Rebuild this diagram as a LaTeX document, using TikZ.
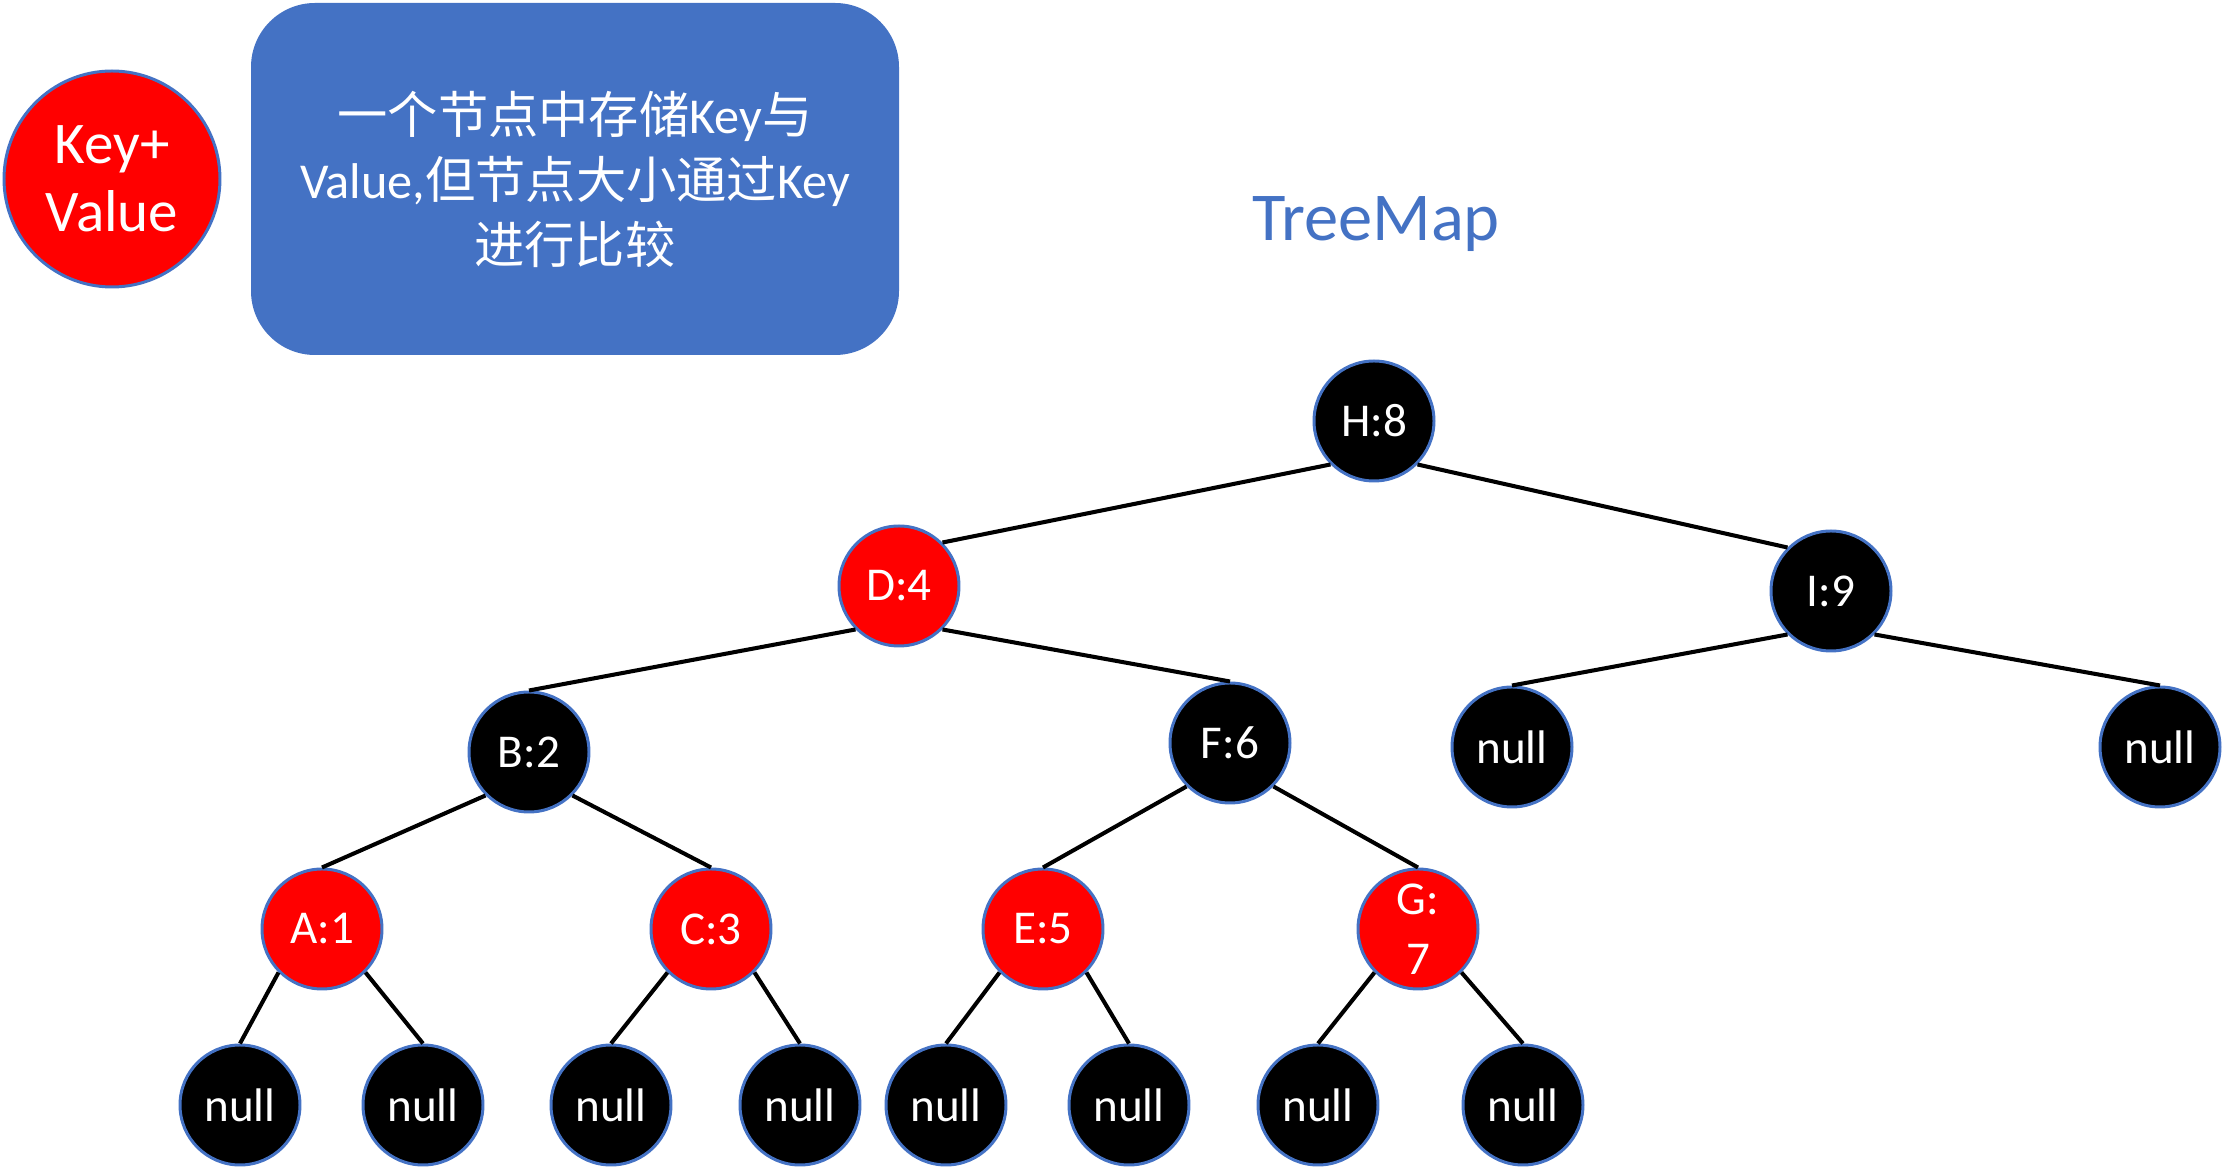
\documentclass[tikz,border=0pt]{standalone}
\usepackage{fontspec}
\setmainfont{Carlito}
\newfontfamily\cjk{Noto Sans CJK SC}
\definecolor{accent}{HTML}{4472C4}
\definecolor{nodered}{HTML}{FF0000}
\begin{document}
\begin{tikzpicture}[
  tnode/.style={circle, draw=accent, line width=0.85pt, minimum size=1.2cm, inner sep=0pt,
    text=white, font=\fontsize{13.4}{17}\selectfont, align=center},
  rednode/.style={tnode, fill=nodered},
  blacknode/.style={tnode, fill=black},
  edge/.style={line width=1.15pt, black}
]
\useasboundingbox (0,0) rectangle (22.24,-11.67);

% legend
\node[circle, draw=accent, line width=0.85pt, fill=nodered, minimum size=2.16cm, inner sep=0pt,
  text=white, align=center, font=\fontsize{16.8}{19.3}\selectfont] (legend) at (1.12,-1.79) {Key+\\Value};
\node[draw=none, fill=accent, rounded corners=0.64cm, minimum width=6.48cm, minimum height=3.52cm,
  text=white, align=center, font=\fontsize{14.3}{18.5}\selectfont] (note) at (5.75,-1.79)
  {{\cjk 一个节点中存储}Key{\cjk 与}\\Value,{\cjk 但节点大小通过}Key\\{\cjk 进行比较}};
\node[text=accent, font=\fontsize{19.5}{22}\selectfont] (title) at (13.76,-2.24) {TreeMap};

% tree nodes
\node[blacknode] (H) at (13.74,-4.21) {H:8};
\node[rednode]   (D) at (8.99,-5.86) {D:4};
\node[blacknode] (I) at (18.31,-5.91) {I:9};
\node[blacknode] (B) at (5.29,-7.52) {B:2};
\node[blacknode] (F) at (12.30,-7.43) {F:6};
\node[blacknode] (n9) at (15.12,-7.47) {null};
\node[blacknode] (n10) at (21.60,-7.47) {null};
\node[rednode] (A) at (3.22,-9.29) {A:1};
\node[rednode] (C) at (7.11,-9.29) {C:3};
\node[rednode] (E) at (10.43,-9.29) {E:5};
\node[rednode] (G) at (14.18,-9.29) {G:\\7};
\node[blacknode] (n1) at (2.40,-11.05) {null};
\node[blacknode] (n2) at (4.23,-11.05) {null};
\node[blacknode] (n3) at (6.11,-11.05) {null};
\node[blacknode] (n4) at (8.00,-11.05) {null};
\node[blacknode] (n5) at (9.46,-11.05) {null};
\node[blacknode] (n6) at (11.29,-11.05) {null};
\node[blacknode] (n7) at (13.18,-11.05) {null};
\node[blacknode] (n8) at (15.23,-11.05) {null};

% edges
\draw[edge] (H.south west) -- (D.north east);
\draw[edge] (H.south east) -- (I.north west);
\draw[edge] (D.south west) -- (B.north);
\draw[edge] (D.south east) -- (F.north);
\draw[edge] (I.south west) -- (n9.north);
\draw[edge] (I.south east) -- (n10.north);
\draw[edge] (B.south west) -- (A.north);
\draw[edge] (B.south east) -- (C.north);
\draw[edge] (F.south west) -- (E.north);
\draw[edge] (F.south east) -- (G.north);
\draw[edge] (A.south west) -- (n1.north);
\draw[edge] (A.south east) -- (n2.north);
\draw[edge] (C.south west) -- (n3.north);
\draw[edge] (C.south east) -- (n4.north);
\draw[edge] (E.south west) -- (n5.north);
\draw[edge] (E.south east) -- (n6.north);
\draw[edge] (G.south west) -- (n7.north);
\draw[edge] (G.south east) -- (n8.north);
\end{tikzpicture}
\end{document}
